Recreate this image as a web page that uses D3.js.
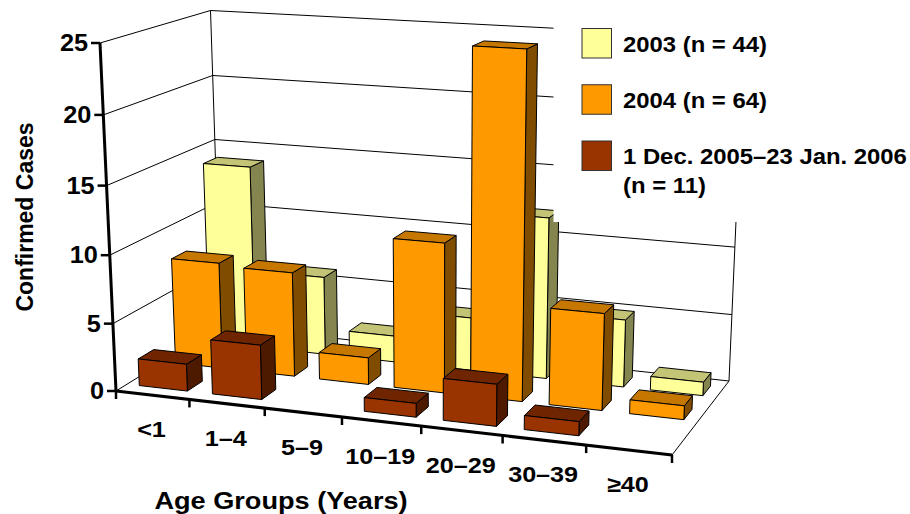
<!DOCTYPE html>
<html>
<head>
<meta charset="utf-8">
<script src="https://cdn.jsdelivr.net/npm/d3@7"></script>
<style>
  html, body { margin: 0; padding: 0; background: #fff; }
  text { font-family: "Liberation Sans", Arial, sans-serif; font-weight: bold; fill: #000; }
</style>
</head>
<body>
<div id="chart"></div>
<script>
// Data
const ageGroups = ["<1", "1–4", "5–9", "10–19", "20–29", "30–39", "≥40"];
const seriesNames = ["2003", "2004", "2006"];
const cases2003 = [14, 6, 2, 4, 12, 5, 1];
const cases2004 = [8, 7.8, 2, 11, 25, 7, 1];
const cases2006 = [2, 4, 0, 1, 3, 1, 0];
const valueTicks = [0, 5, 10, 15, 20, 25];
const legendLines = [["2003 (n = 44)"], ["2004 (n = 64)"], ["1 Dec. 2005–23 Jan. 2006", "(n = 11)"]];

const faceColors = {
  "2003": {front: "#ffff99", side: "#858550", top: "#c4c476"},
  "2004": {front: "#ff9900", side: "#804d00", top: "#c67700"},
  "2006": {front: "#993300", side: "#4d1a00", top: "#6f2600"}
};

const width = 910, height = 514;

const svg = d3.select("#chart").append("svg")
  .attr("width", width)
  .attr("height", height)
  .style("display", "block");

// Scales run in box units 0-1, project() turns them into pixels
const uScale = d3.scaleBand().domain(ageGroups).range([0, 1]).paddingInner(0.34).paddingOuter(0.17);
const uTick = d3.scalePoint().domain(d3.range(ageGroups.length + 1)).range([0, 1]);
const vScale = d3.scaleBand().domain(["2006", "2004", "2003"]).range([0, 1]).paddingInner(0.58).paddingOuter(0.29);
const wScale = d3.scaleLinear().domain([0, 25]).range([0, 1]);

// Screen position of the eight corners of the plot box, [u][v][w]
const box = [
  [[[116, 391], [100, 43]], [[221, 326], [210.5, 10.5]]],
  [[[672, 455], [685, 77]], [[729, 381], [744, 38]]]
];
const persp = {u: -0.087, v: 0.1, w: -0.04};

function project(u, v, w) {
  let sx = 0, sy = 0, sz = 0;
  [0, 1].forEach(i => [0, 1].forEach(j => [0, 1].forEach(k => {
    const b = (i ? u : 1 - u) * (j ? v : 1 - v) * (k ? w : 1 - w);
    const z = 1 + persp.u * i + persp.v * j + persp.w * k;
    sx += b * z * box[i][j][k][0];
    sy += b * z * box[i][j][k][1];
    sz += b * z;
  })));
  return [sx / sz, sy / sz];
}

const line = d3.line();

function wire(g, a, b, sw) {
  g.append("path")
    .attr("d", line([project(...a), project(...b)]))
    .attr("fill", "none")
    .attr("stroke", "#000")
    .attr("stroke-width", sw);
}

// Text in the original is stretched sideways
function label(g, str, x, y, size, stretch, anchor, rotate) {
  return g.append("text")
    .attr("transform", `translate(${x},${y})` + (rotate ? ` rotate(${rotate})` : "") + ` scale(${stretch},1)`)
    .attr("font-size", size)
    .attr("text-anchor", anchor)
    .text(str);
}

// Walls and floor
const walls = svg.append("g");
valueTicks.forEach(t => {
  const w = wScale(t);
  wire(walls, [0, 0, w], [0, 1, w], 1);
  wire(walls, [0, 1, w], [1, 1, w], 1);
});
wire(walls, [0, 1, 0], [0, 1, 1], 1);
wire(walls, [1, 1, 0], [1, 1, 1], 1);
wire(walls, [1, 0, 0], [1, 1, 0], 1);

// Bars, back row first
const bars = svg.append("g");
const allSeries = {"2003": cases2003, "2004": cases2004, "2006": cases2006};

seriesNames.forEach(name => {
  allSeries[name].forEach((value, i) => {
    if (value === 0) return;
    const u0 = uScale(ageGroups[i]), u1 = u0 + uScale.bandwidth();
    const v0 = vScale(name), v1 = v0 + vScale.bandwidth();
    const w1 = wScale(value);
    const faces = [
      {c: "side", pts: [[u1, v0, 0], [u1, v1, 0], [u1, v1, w1], [u1, v0, w1]]},
      {c: "top", pts: [[u0, v0, w1], [u1, v0, w1], [u1, v1, w1], [u0, v1, w1]]},
      {c: "front", pts: [[u0, v0, 0], [u1, v0, 0], [u1, v0, w1], [u0, v0, w1]]}
    ];
    bars.selectAll(null)
      .data(faces)
      .join("path")
      .attr("d", d => line(d.pts.map(p => project(...p))) + "Z")
      .attr("fill", d => faceColors[name][d.c])
      .attr("stroke", "#000")
      .attr("stroke-width", 1)
      .attr("stroke-linejoin", "round");
  });
});

// Front axes
const axes = svg.append("g");
wire(axes, [0, 0, 0], [0, 0, 1], 3);
wire(axes, [0, 0, 0], [1, 0, 0], 3);

valueTicks.forEach(t => {
  const [x, y] = project(0, 0, wScale(t));
  axes.append("line")
    .attr("x1", x - 9).attr("x2", x)
    .attr("y1", y).attr("y2", y)
    .attr("stroke", "#000").attr("stroke-width", 2.5);
  label(axes, t, x - 12, y + 8, 23, 1.1, "end");
});

uTick.domain().forEach(t => {
  const [x, y] = project(uTick(t), 0, 0);
  axes.append("line")
    .attr("x1", x).attr("x2", x)
    .attr("y1", y).attr("y2", y + 8)
    .attr("stroke", "#000").attr("stroke-width", 2.5);
});

ageGroups.forEach(g => {
  const [x, y] = project(uScale(g) + uScale.bandwidth() / 2, 0, 0);
  label(axes, g, x - 1, y + 42, 22, 1.145, "middle");
});

label(axes, "Confirmed Cases", 32.5, 217, 23, 1.0, "middle", -90);
label(axes, "Age Groups (Years)", 281, 509, 23, 1.18, "middle");

// Legend sits on a white panel that hides the top right of the walls
const legend = svg.append("g");
legend.append("rect")
  .attr("x", 553.5).attr("y", 0)
  .attr("width", width - 553.5).attr("height", 222)
  .attr("fill", "#fff");

const legendY = d3.scalePoint().domain(seriesNames).range([28.5, 141]);
seriesNames.forEach((name, i) => {
  legend.append("rect")
    .attr("x", 582).attr("y", legendY(name))
    .attr("width", 29.5).attr("height", 29.5)
    .attr("fill", faceColors[name].front)
    .attr("stroke", "#333")
    .attr("stroke-width", 1);
  legendLines[i].forEach((txt, j) => {
    label(legend, txt, 623, legendY(name) + 23 + j * 29, 22, 1.085, "start");
  });
});
</script>
</body>
</html>
